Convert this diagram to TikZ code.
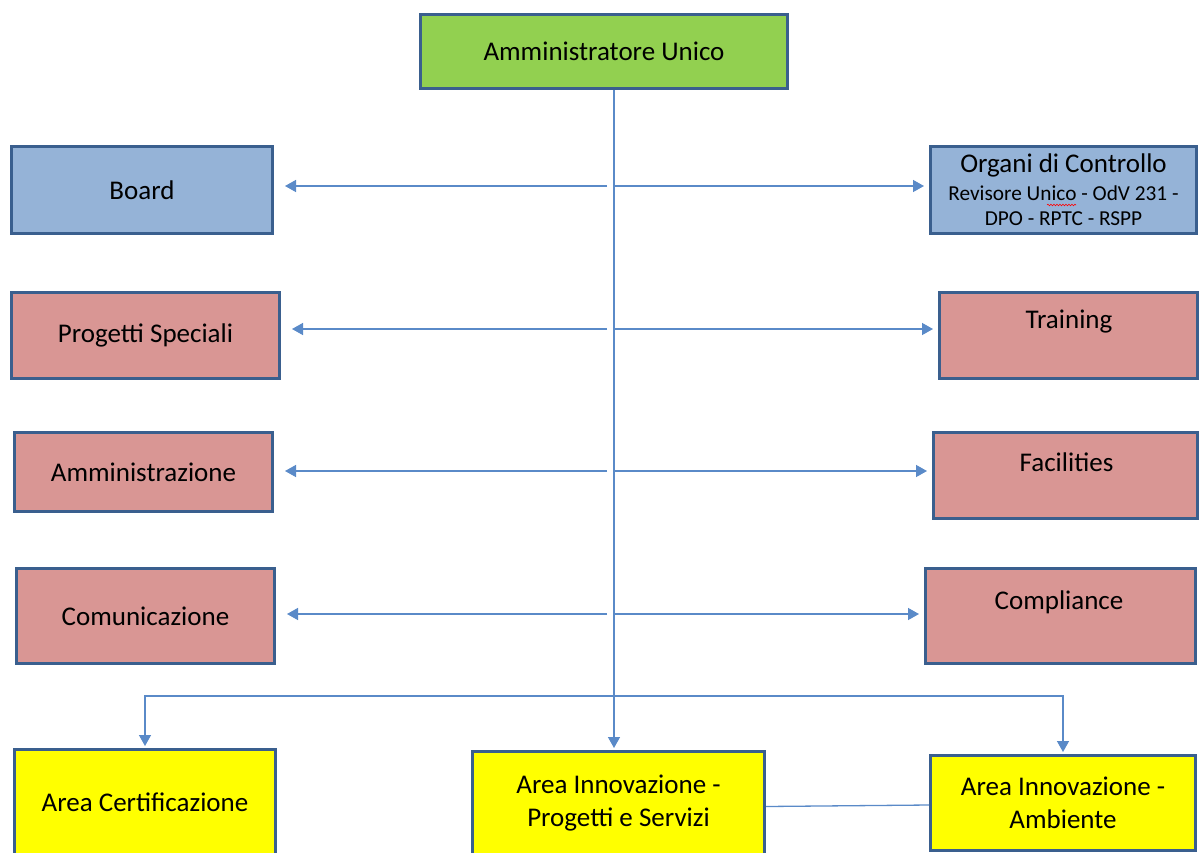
\documentclass[tikz,border=0pt]{standalone}
\usepackage{fontspec}
\setmainfont{Carlito}
\usetikzlibrary{positioning, arrows.meta, decorations.pathmorphing}

\definecolor{boxline}{HTML}{3A5F8E}
\definecolor{auGreen}{HTML}{92D050}
\definecolor{ctrlBlue}{HTML}{95B3D7}
\definecolor{staffRed}{HTML}{D99694}
\definecolor{areaYellow}{HTML}{FFFF00}
\definecolor{linkBlue}{HTML}{5A8AC8}

\newcommand{\bigf}{\fontsize{27}{32}\selectfont}
\newcommand{\subf}{\fontsize{21.3}{25}\selectfont}

\tikzset{
  >={Triangle[length=11pt,width=12pt]},
  box/.style={draw=boxline, line width=3pt, inner sep=0pt, font=\bigf, align=center},
  sz/.style 2 args={minimum width=#1pt, minimum height=#2pt},
  lbl/.style={font=\bigf},
  conn/.style={draw=linkBlue, line width=1.4pt, ->},
}

\begin{document}
\begin{tikzpicture}[x=1pt, y=-1pt]
  \useasboundingbox (0,0) rectangle (1200,852);
  \clip (0,0) rectangle (1200,852);

  % top
  \node[box, fill=auGreen, sz={367}{74}] (au) at (604,51.5) {Amministratore Unico};

  % left column
  \node[box, fill=ctrlBlue, sz={261}{87}] (board) at (142,190) {Board};
  \node[box, fill=staffRed, sz={268}{86}] (progetti) at (145.5,335.5) {Progetti Speciali};
  \node[box, fill=staffRed, sz={258}{79}] (amm) at (143.5,472) {Amministrazione};
  \node[box, fill=staffRed, sz={258}{95}] (com) at (145.5,616) {Comunicazione};

  % right column
  \node[box, fill=ctrlBlue, sz={266}{87}, font=\subf] (organi) at (1063.5,190)
    {{\bigf Organi di Controllo}\\[3pt]Revisore Unico - OdV 231 -\\DPO - RPTC - RSPP};
  \node[box, fill=staffRed, sz={258}{86}] (training) at (1068.5,335.5) {};
  \node[box, fill=staffRed, sz={264}{86}] (fac) at (1065.5,475.5) {};
  \node[box, fill=staffRed, sz={270}{95}] (comp) at (1060.5,616) {};
  \node[lbl] (trainingtxt) at (1069,322) {Training};
  \node[lbl] (factxt) at (1066.5,462) {Facilities};
  \node[lbl] (comptxt) at (1059,602) {Compliance};

  % areas
  \node[box, fill=areaYellow, sz={261}{105}] (cert) at (145,802) {Area Certificazione};
  \node[box, fill=areaYellow, sz={292}{104}, font=\fontsize{27}{33}\selectfont] (mid) at (618.5,803.5)
    {Area Innovazione -\\Progetti e Servizi};
  \node[box, fill=areaYellow, sz={265}{95}, font=\fontsize{27}{33}\selectfont] (amb) at (1063,803)
    {Area Innovazione -\\Ambiente};

  % spell check mark
  \draw[red, line width=0.6pt, decorate, decoration={snake, amplitude=0.8pt, segment length=3pt}]
    (1047,205) -- (1076,205);

  % connectors
  \coordinate (trunk) at (614,0);
  \coordinate (bus) at (614,696);
  \draw[conn, shorten >=2pt] (trunk |- au.south) -- (trunk |- mid.north);
  \foreach \lb/\rb/\yy in {board/organi/186, progetti/training/329, amm/fac/471, com/comp/614}{
    \path (614,\yy) coordinate (lvl);
    \draw[conn, shorten >=11pt] ([xshift=-7pt]lvl) -- (lvl -| \lb.east);
    \draw[conn, shorten >=5pt] (lvl) -- (lvl -| \rb.west);
  }
  \draw[conn, <->, shorten <=2pt, shorten >=2pt] (cert.north) |- (bus) -| (amb.north);
  \draw[linkBlue, line width=1.3pt] ([yshift=-3pt]mid.east) -- ([yshift=-2pt]amb.west);
\end{tikzpicture}
\end{document}
